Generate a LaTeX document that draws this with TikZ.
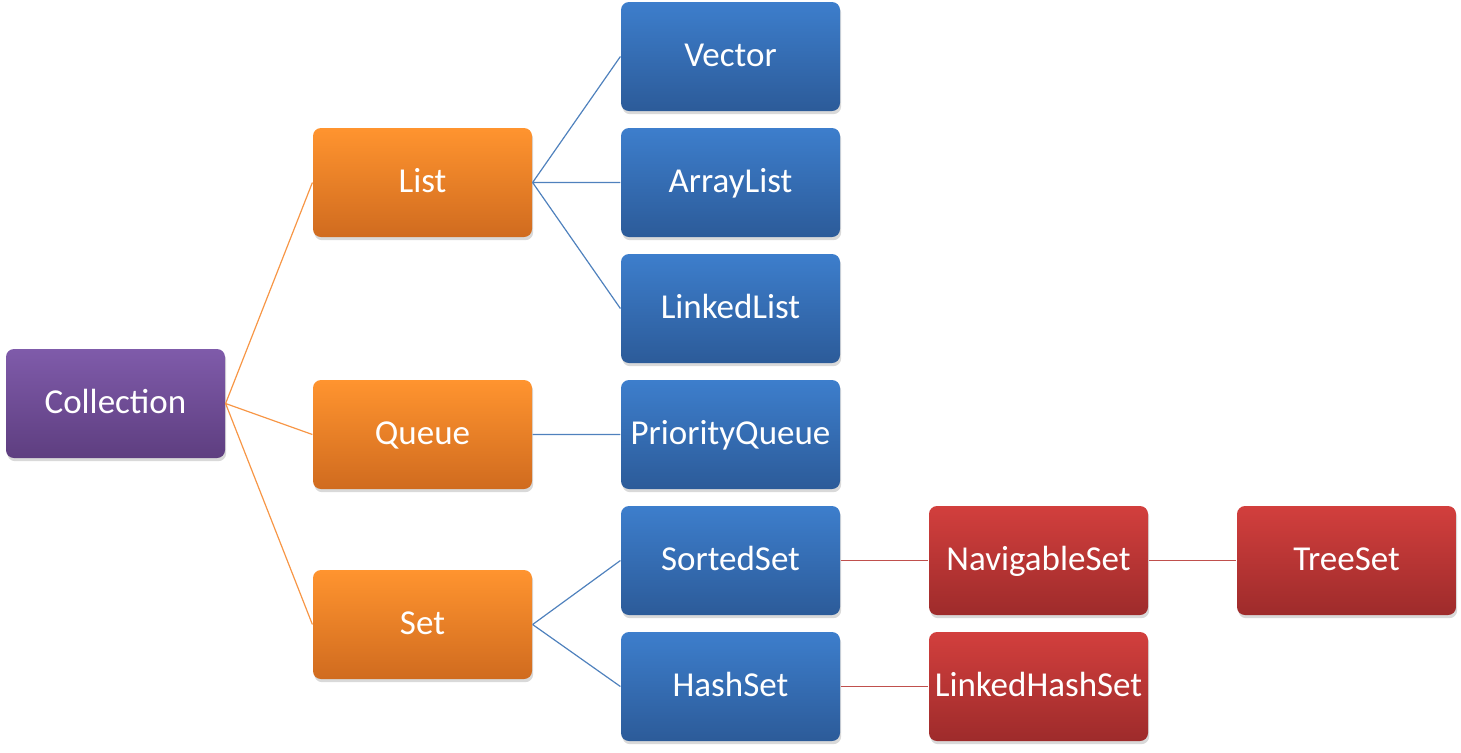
\documentclass[tikz,border=0pt]{standalone}
\usepackage{fontspec}
\setmainfont{Carlito}
\usetikzlibrary{positioning,shadows}

\definecolor{purpleTop}{HTML}{7F5BAA}
\definecolor{purpleBot}{HTML}{5E3E80}
\definecolor{orangeTop}{HTML}{FF942F}
\definecolor{orangeBot}{HTML}{D06B1F}
\definecolor{blueTop}{HTML}{3D7ECC}
\definecolor{blueBot}{HTML}{2C5B99}
\definecolor{redTop}{HTML}{D23F3D}
\definecolor{redBot}{HTML}{9E2B2B}
\definecolor{orangeLine}{HTML}{F79646}
\definecolor{blueLine}{HTML}{4F81BD}
\definecolor{redLine}{HTML}{C0504D}

\begin{document}
\begin{tikzpicture}[x=0.5pt, y=-0.5pt, semithick]
\tikzset{
  box/.style={rounded corners=4pt, minimum width=109.5pt, minimum height=54.5pt,
    text=white, font=\fontsize{17.5}{20}\selectfont, inner sep=0pt,
    text height=11pt, text depth=1pt,
    drop shadow={shadow xshift=0.6pt, shadow yshift=-1.6pt, opacity=0.3}},
  root/.style={box, top color=purpleTop, bottom color=purpleBot},
  iface/.style={box, top color=orangeTop, bottom color=orangeBot},
  impl/.style={box, top color=blueTop, bottom color=blueBot},
  leaf/.style={box, top color=redTop, bottom color=redBot}
}
\useasboundingbox (0,0) rectangle (1461,752);
% boxes
\node[root]  (Coll)   at (115.5,403.5)  {Collection};
\node[iface] (List)   at (422.5,182.5)  {List};
\node[iface] (Queue)  at (422.5,434.5)  {Queue};
\node[iface] (Set)    at (422.5,624.5)  {Set};
\node[impl]  (Vec)    at (730.5,56.5)   {Vector};
\node[impl]  (AList)  at (730.5,182.5)  {ArrayList};
\node[impl]  (LList)  at (730.5,308.5)  {LinkedList};
\node[impl]  (PQueue) at (730.5,434.5)  {PriorityQueue};
\node[impl]  (SSet)   at (730.5,560.5)  {SortedSet};
\node[impl]  (HSet)   at (730.5,686.5)  {HashSet};
\node[leaf]  (NSet)   at (1038.5,560.5) {NavigableSet};
\node[leaf]  (LHSet)  at (1038.5,686.5) {LinkedHashSet};
\node[leaf]  (TSet)   at (1346.5,560.5) {TreeSet};
% links
\draw[orangeLine] (Coll.east) -- (List.west)
                  (Coll.east) -- (Queue.west)
                  (Coll.east) -- (Set.west);
\draw[blueLine] (List.east) -- (Vec.west)
                (List.east) -- (AList.west)
                (List.east) -- (LList.west)
                (Queue.east) -- (PQueue.west)
                (Set.east) -- (SSet.west)
                (Set.east) -- (HSet.west);
\draw[redLine] (SSet.east) -- (NSet.west)
               (NSet.east) -- (TSet.west)
               (HSet.east) -- (LHSet.west);
\end{tikzpicture}
\end{document}
